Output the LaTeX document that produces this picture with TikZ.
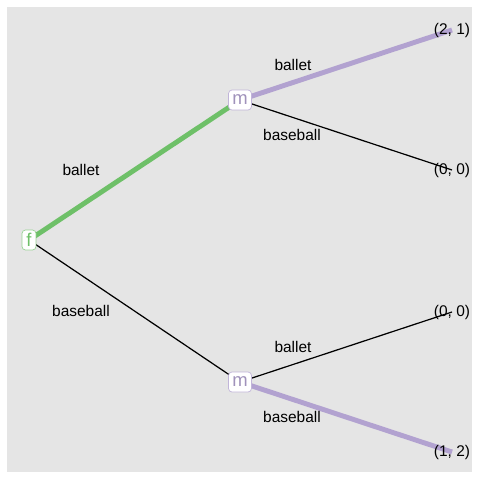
\documentclass[tikz,border=0pt]{standalone}
\usepackage{fontspec}
\setmainfont{Liberation Sans}
\usetikzlibrary{positioning}
\definecolor{fgreen}{RGB}{110,192,104}
\definecolor{mpurple}{RGB}{178,162,208}
\definecolor{panel}{RGB}{229,229,229}
\begin{document}
\begin{tikzpicture}[x=0.02cm,y=-0.02cm,font=\fontsize{8.8}{10}\selectfont]

%BACKGROUND
\useasboundingbox (0,0) rectangle (480,480);
\fill[panel] (7,7) rectangle (472,472);

%%%%%%%%%%%%%%%%%%%%%%%%%%%%%%%%%%%%%%%%%%%%%%%%%%%%%%%%%%%%%%
%vertex
\tikzstyle{player}=[draw,fill=white,rounded corners=2pt,line width=0.4pt,inner sep=0pt,minimum height=0.4cm,font=\fontsize{10.5}{11}\selectfont]
\tikzstyle{pf}=[player,draw=fgreen!70,text=fgreen,minimum width=0.28cm]
\tikzstyle{pm}=[player,draw=mpurple!80,text=mpurple!90!black,minimum width=0.46cm]
\tikzstyle{payoff}=[inner sep=0pt]
\tikzstyle{lbl}=[inner sep=0pt]

%payoffs
\coordinate (t1) at (452,30);
\coordinate (t2) at (452,170);
\coordinate (t3) at (452,312);
\coordinate (t4) at (452,452);

%%%%%%%%%%%%%%%%%%%%%%%%%%%%%%%%%%%%%%%%%%%%%%%%%%%%%%%%%%%%%%
%ARROWS
\draw[line width=0.7pt] (29,240) coordinate (f0) -- (240,382) coordinate (m2c);
\draw[line width=2.8pt,fgreen] (f0) -- (240,100) coordinate (m1c);
\draw[line width=2.8pt,mpurple] (m1c) -- (t1);
\draw[line width=0.7pt] (m1c) -- (t2);
\draw[line width=0.7pt] (m2c) -- (t3);
\draw[line width=2.8pt,mpurple] (m2c) -- (t4);

%players
\node[pf] (f) at (f0) {f};
\node[pm] (m1) at (m1c) {m};
\node[pm] (m2) at (m2c) {m};

%payoff text
\node[payoff] (p1) at (t1) {(2, 1)};
\node[payoff] (p2) at (t2) {(0, 0)};
\node[payoff] (p3) at (t3) {(0, 0)};
\node[payoff] (p4) at (t4) {(1, 2)};

%actions
\node[lbl] (a1) at (81,170) {ballet};
\node[lbl] (a2) at (81,311) {baseball};
\node[lbl] (a3) at (293,65) {ballet};
\node[lbl] (a4) at (292,135) {baseball};
\node[lbl] (a5) at (293,347) {ballet};
\node[lbl] (a6) at (292,417) {baseball};
\end{tikzpicture}
\end{document}
